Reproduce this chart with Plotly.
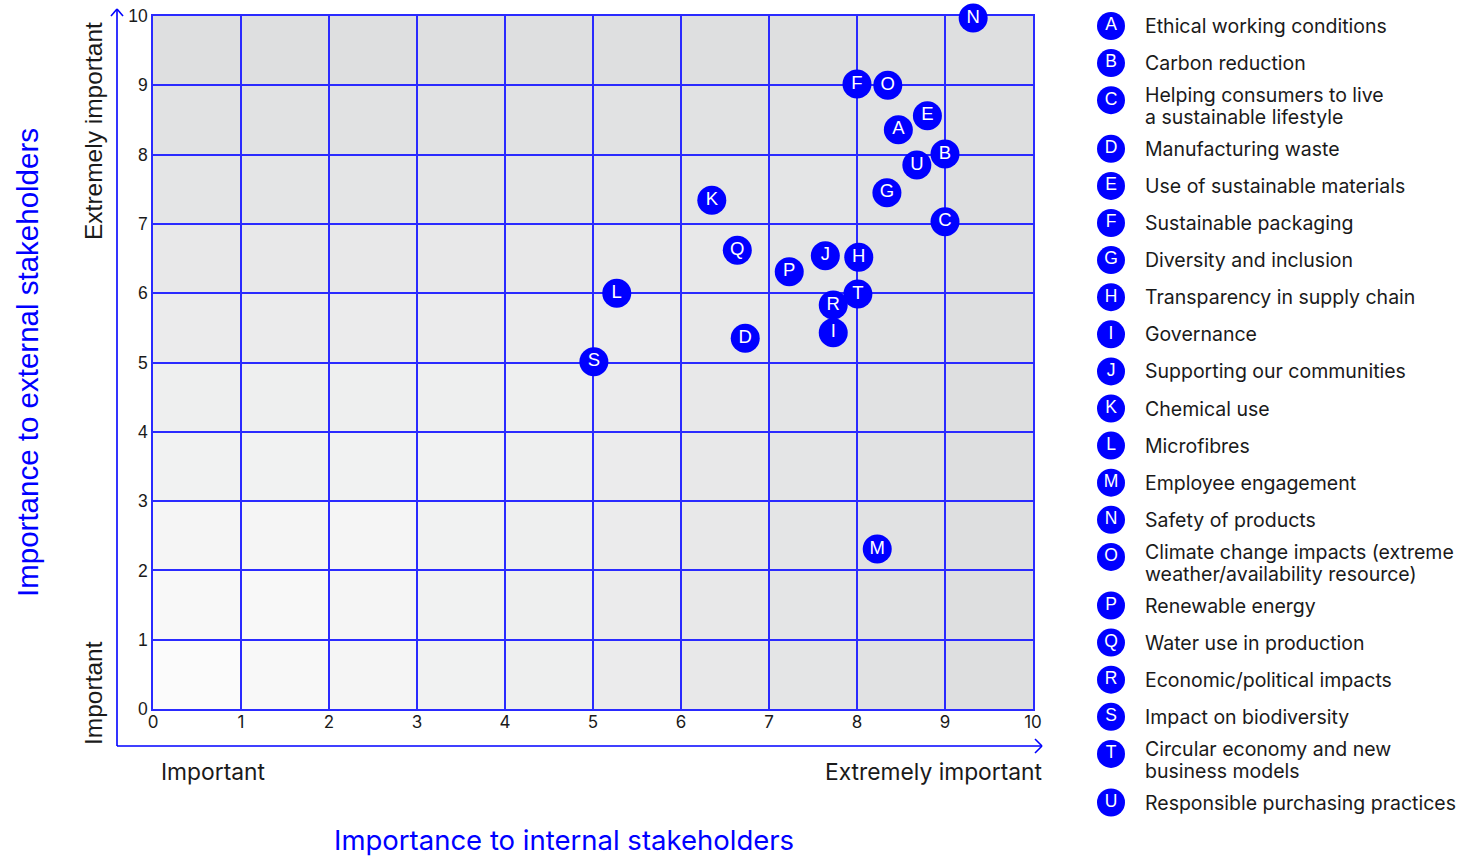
import plotly.graph_objects as go

# Materiality topics: letter, label, internal score (x), external score (y)
letters = list("ABCDEFGHIJKLMNOPQRSTU")
topics = [
    "Ethical working conditions",
    "Carbon reduction",
    "Helping consumers to live<br>a sustainable lifestyle",
    "Manufacturing waste",
    "Use of sustainable materials",
    "Sustainable packaging",
    "Diversity and inclusion",
    "Transparency in supply chain",
    "Governance",
    "Supporting our communities",
    "Chemical use",
    "Microfibres",
    "Employee engagement",
    "Safety of products",
    "Climate change impacts (extreme<br>weather/availability resource)",
    "Renewable energy",
    "Water use in production",
    "Economic/political impacts",
    "Impact on biodiversity",
    "Circular economy and new<br>business models",
    "Responsible purchasing practices",
]
internal = [8.47, 9.0, 9.0, 6.73, 8.8, 8.0, 8.34, 8.02, 7.73, 7.64, 6.35,
            5.27, 8.23, 9.32, 8.35, 7.23, 6.64, 7.73, 5.01, 8.01, 8.68]
external = [8.36, 8.01, 7.03, 5.35, 8.56, 9.02, 7.45, 6.52, 5.43, 6.54, 7.34,
            6.0, 2.31, 9.97, 9.0, 6.31, 6.62, 5.83, 5.01, 5.99, 7.85]

tick_values = list(range(0, 11))

W, H = 1481, 857
BLUE = "#0000ff"
GRID = "#2a2aff"
TEXT = "#1a1a1a"
SANS = "Inter, 'Noto Sans', sans-serif"
ARIAL = "'Liberation Sans', Arial, sans-serif"


def px(x):
    return x / W


def py(y):
    return 1 - y / H


fig = go.Figure()

# Materiality points
fig.add_trace(go.Scatter(
    x=internal, y=external, mode="markers+text", text=letters,
    textposition="middle center",
    textfont=dict(family=ARIAL, size=18.5, color="white"),
    marker=dict(size=29, color=BLUE, line=dict(width=0)),
    cliponaxis=False, hoverinfo="skip", showlegend=False,
))

# Key of topics, drawn on an overlay axis measured in pixels
key_y = []
cursor = 26.0
for t in topics:
    two = "<br>" in t
    key_y.append(cursor)
    cursor += 37.1 + (11.5 if two else 0)

fig.add_trace(go.Scatter(
    x=[1111] * len(letters), y=key_y, mode="markers+text", text=letters,
    textposition="middle center",
    textfont=dict(family=ARIAL, size=17.5, color="white"),
    marker=dict(size=28, color=BLUE, line=dict(width=0)),
    xaxis="x2", yaxis="y2", cliponaxis=False, hoverinfo="skip",
    showlegend=False,
))

# Key labels; wrapped labels are set line by line for tighter leading
annotations = []
for t, yk in zip(topics, key_y):
    lines = t.split("<br>")
    if len(lines) == 1:
        offsets = [0]
    else:
        offsets = [-5, 17]
    for line, off in zip(lines, offsets):
        annotations.append(dict(
            x=1143, y=yk + off, xref="x2", yref="y2",
            text=line, showarrow=False, xanchor="left", yanchor="middle",
            align="left", font=dict(family=SANS, size=19.5, color=TEXT),
        ))

# Shaded cells: tone deepens with the larger of the two indices
shapes = []
c0 = (251, 251, 251)
c1 = (222, 223, 224)
for i in range(10):
    for j in range(10):
        m = max(i, j) / 9
        col = tuple(round(a + (b - a) * m) for a, b in zip(c0, c1))
        shapes.append(dict(
            type="rect", xref="x", yref="y", x0=i, x1=i + 1, y0=j, y1=j + 1,
            fillcolor="rgb(%d,%d,%d)" % col, line=dict(width=0),
            layer="below",
        ))

# Axis arrows
arrow = dict(color=BLUE, width=1.6)
for (xa, ya, xb, yb) in [
    (117, 746, 117, 9), (111, 16, 117, 9), (123, 16, 117, 9),
    (117, 746, 1042, 746), (1035, 739, 1042, 746), (1035, 753, 1042, 746),
]:
    shapes.append(dict(type="line", xref="paper", yref="paper",
                       x0=px(xa), y0=py(ya), x1=px(xb), y1=py(yb),
                       line=arrow, layer="above"))

annotations += [
    dict(x=px(159), y=py(771), xref="paper", yref="paper", text="Important",
         showarrow=False, xanchor="left", yanchor="middle",
         font=dict(family=SANS, size=22.8, color=TEXT)),
    dict(x=px(1044), y=py(771), xref="paper", yref="paper",
         text="Extremely important", showarrow=False, xanchor="right",
         yanchor="middle", font=dict(family=SANS, size=22.8, color=TEXT)),
    dict(x=px(93), y=py(20), xref="paper", yref="paper",
         text="Extremely important", showarrow=False, textangle=-90,
         xanchor="center", yanchor="top",
         font=dict(family=ARIAL, size=24.5, color=TEXT)),
    dict(x=px(93), y=py(747), xref="paper", yref="paper", text="Important",
         showarrow=False, textangle=-90, xanchor="center", yanchor="bottom",
         font=dict(family=ARIAL, size=24.5, color=TEXT)),
    dict(x=px(27), y=py(363), xref="paper", yref="paper",
         text="Importance to external stakeholders", showarrow=False,
         textangle=-90, xanchor="center", yanchor="middle",
         font=dict(family=ARIAL, size=29.5, color=BLUE)),
    dict(x=px(564), y=py(840), xref="paper", yref="paper",
         text="Importance to internal stakeholders", showarrow=False,
         xanchor="center", yanchor="middle",
         font=dict(family=SANS, size=27.5, color=BLUE)),
]

axis_common = dict(
    range=[0, 10], autorange=False, automargin=False, tickvals=tick_values,
    showgrid=True, gridcolor=GRID, gridwidth=1.5, zeroline=False,
    showline=True, linecolor=GRID, linewidth=1.5, mirror=True, ticks="",
    ticklen=0, fixedrange=True, layer="below traces",
)

fig.update_layout(
    width=W, height=H, margin=dict(l=0, r=0, t=0, b=0, pad=0),
    paper_bgcolor="white", plot_bgcolor="rgba(0,0,0,0)",
    xaxis=dict(domain=[px(153), px(1033)], ticklabelstandoff=-3,
               tickfont=dict(family=SANS, size=17, color=TEXT),
               **axis_common),
    yaxis=dict(domain=[py(709), py(16)],
               tickfont=dict(family=ARIAL, size=17.5, color=TEXT),
               **axis_common),
    xaxis2=dict(domain=[0, 1], range=[0, W], autorange=False,
                automargin=False, visible=False, anchor="y2",
                fixedrange=True),
    yaxis2=dict(domain=[0, 1], range=[H, 0], autorange=False,
                automargin=False, visible=False, anchor="x2",
                fixedrange=True),
    shapes=shapes, annotations=annotations,
)

fig.write_html("out.html", config={"displayModeBar": False})
